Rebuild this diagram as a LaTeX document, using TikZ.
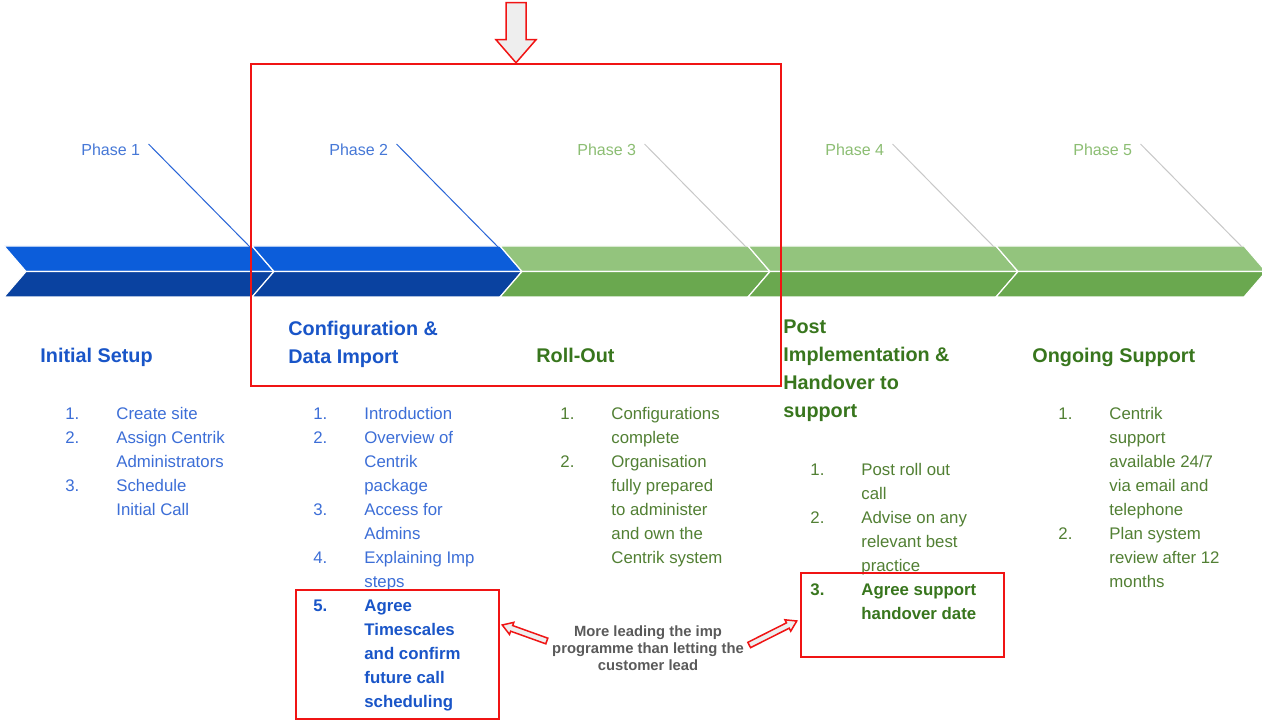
\documentclass[tikz,border=0pt]{standalone}
\usepackage{fontspec}
\setmainfont{Liberation Sans}
\usetikzlibrary{calc}
\definecolor{bandblue}{RGB}{12,93,218}
\definecolor{bandnavy}{RGB}{10,66,160}
\definecolor{bandlime}{RGB}{147,196,125}
\definecolor{bandgreen}{RGB}{106,168,79}
\definecolor{headblue}{RGB}{25,85,200}
\definecolor{listblue}{RGB}{60,110,215}
\definecolor{phaseblue}{RGB}{70,120,215}
\definecolor{tickblue}{RGB}{40,100,215}
\definecolor{headgreen}{RGB}{56,118,29}
\definecolor{listgreen}{RGB}{82,128,52}
\definecolor{phasegreen}{RGB}{140,190,115}
\definecolor{tickgray}{RGB}{200,200,200}
\definecolor{notegray}{RGB}{90,90,90}
\definecolor{markred}{RGB}{240,20,20}
\definecolor{arrowfill}{RGB}{238,238,238}

\newcommand{\steplist}[1]{\begin{tabular}{@{}p{25.5pt}@{}l@{}}#1\end{tabular}}
\newcommand{\headtext}[1]{\begin{tabular}{@{}l@{}}#1\end{tabular}}
% hollow block arrow: tail, tip, shaft half width, head half width, head length
\newcommand{\hollowarrow}[5]{%
  \coordinate (hb) at ($(#2)!#5!(#1)$);
  \draw[markred, line width=0.75pt, fill=arrowfill, line join=miter]
    ($(#1)!#3!90:(#2)$) -- ($(hb)!#3!90:(#2)$) -- ($(hb)!#4!90:(#2)$) -- (#2)
    -- ($(hb)!#4!-90:(#2)$) -- ($(hb)!#3!-90:(#2)$) -- ($(#1)!#3!-90:(#2)$) -- cycle;}

\tikzset{
  phase/.style={anchor=base west, inner sep=0, font=\fontsize{8}{10}\selectfont},
  head/.style={anchor=north west, inner sep=0, font=\fontsize{9.9}{14}\selectfont\bfseries},
  steps/.style={anchor=north west, inner sep=0, font=\fontsize{8.4}{12}\selectfont},
  redbox/.style={draw=markred, line width=1.25pt, inner sep=0}
}

\begin{document}
\begin{tikzpicture}[x=0.5pt, y=-0.5pt]
  \fill[white] (0,0) rectangle (1262,721);
  \useasboundingbox (0,0) rectangle (1262,721);

  % chevron band
  \foreach \i/\ctop/\cbot in {0/bandblue/bandnavy, 1/bandblue/bandnavy, 2/bandlime/bandgreen, 3/bandlime/bandgreen, 4/bandlime/bandgreen}{
    \pgfmathsetmacro\xl{4+248*\i}
    \filldraw[fill=\ctop, draw=white, line width=0.6pt] (\xl,246) -- ++(248,0) -- ++(22,25.5) -- ++(-248,0) -- cycle;
    \filldraw[fill=\cbot, draw=white, line width=0.6pt] (\xl+22,271.5) -- ++(248,0) -- ++(-22,25.5) -- ++(-248,0) -- cycle;
  }

  % phase labels
  \foreach \i/\col/\tick in {1/phaseblue/tickblue, 2/phaseblue/tickblue, 3/phasegreen/tickgray, 4/phasegreen/tickgray, 5/phasegreen/tickgray}{
    \node[phase, text=\col] (phase\i) at (81+248*\i-248,156) {Phase \i};
    \coordinate (tick\i) at (250+248*\i-248,247);
    \draw[\tick, line width=0.5pt] ([xshift=4pt]phase\i.north east) -- (tick\i);
  }

  % headings
  \node[head, text=headblue] (setup) at (40,342.4) {\headtext{Initial Setup}};
  \node[head, text=headblue] (config) at (288,315.4) {\headtext{Configuration \&\\Data Import}};
  \node[head, text=headgreen] (rollout) at (536,342.4) {\headtext{Roll-Out}};
  \node[head, text=headgreen] (post) at (783,313.4) {\headtext{Post\\Implementation \&\\Handover to\\support}};
  \node[head, text=headgreen] (ongoing) at (1032,342.4) {\headtext{Ongoing Support}};

  % step lists
  \node[steps, text=listblue] (setuplist) at (65,402.2) {\steplist{%
    1. & Create site\\
    2. & Assign Centrik\\
       & Administrators\\
    3. & Schedule\\
       & Initial Call}};
  \node[steps, text=listblue] (configlist) at (313,402.2) {\steplist{%
    1. & Introduction\\
    2. & Overview of\\
       & Centrik\\
       & package\\
    3. & Access for\\
       & Admins\\
    4. & Explaining Imp\\
       & steps\\
    \textcolor{headblue}{\bfseries 5.} & \textcolor{headblue}{\bfseries Agree}\\
       & \textcolor{headblue}{\bfseries Timescales}\\
       & \textcolor{headblue}{\bfseries and confirm}\\
       & \textcolor{headblue}{\bfseries future call}\\
       & \textcolor{headblue}{\bfseries scheduling}}};
  \node[steps, text=listgreen] (rolloutlist) at (560,402.2) {\steplist{%
    1. & Configurations\\
       & complete\\
    2. & Organisation\\
       & fully prepared\\
       & to administer\\
       & and own the\\
       & Centrik system}};
  \node[steps, text=listgreen] (postlist) at (810,458.2) {\steplist{%
    1. & Post roll out\\
       & call\\
    2. & Advise on any\\
       & relevant best\\
       & practice\\
    \textcolor{headgreen}{\bfseries 3.} & \textcolor{headgreen}{\bfseries Agree support}\\
       & \textcolor{headgreen}{\bfseries handover date}}};
  \node[steps, text=listgreen] (ongoinglist) at (1058,402.2) {\steplist{%
    1. & Centrik\\
       & support\\
       & available 24/7\\
       & via email and\\
       & telephone\\
    2. & Plan system\\
       & review after 12\\
       & months}};

  % red highlight boxes
  \node[redbox, minimum width=265pt, minimum height=161pt] (focus) at (516,225) {};
  \node[redbox, minimum width=101.5pt, minimum height=64.5pt] (agreebox) at (397.5,654.5) {};
  \node[redbox, minimum width=101.5pt, minimum height=42pt] (handbox) at (902.5,615) {};

  % note between the boxes
  \node[font=\fontsize{7.4}{8.5}\selectfont\bfseries, align=center, text=notegray, inner sep=1pt] (note) at (648,648)
    {More leading the imp\\programme than letting the\\customer lead};

  % hollow arrows
  \coordinate (droptail) at ($(focus.north)+(0,-60)$);
  \hollowarrow{droptail}{focus.north}{5pt}{10pt}{11.5pt}
  \coordinate (lefttail) at ($(note.west)+(-3,-7)$);
  \coordinate (lefttip) at ($(agreebox.east)+(2,-29.5)$);
  \hollowarrow{lefttail}{lefttip}{1.5pt}{3.2pt}{5pt}
  \coordinate (righttail) at ($(note.east)+(3,-3)$);
  \coordinate (righttip) at ($(handbox.west)+(-3,6)$);
  \hollowarrow{righttail}{righttip}{1.5pt}{3.2pt}{5pt}
\end{tikzpicture}
\end{document}
